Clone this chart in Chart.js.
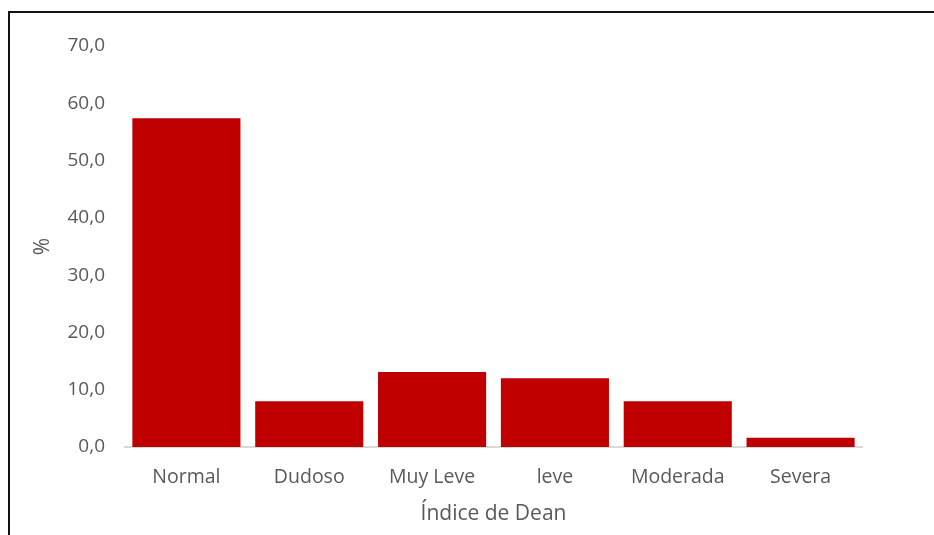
<!DOCTYPE html>
<html>
<head>
<meta charset="utf-8">
<script src="https://cdn.jsdelivr.net/npm/chart.js@4"></script>
<style>
  html, body { margin: 0; padding: 0; background: #fff; }
  #wrap { position: relative; width: 934px; height: 535px; }
  #frame { position: absolute; left: 8px; top: 11px; width: 940px; height: 540px;
           border-top: 2px solid #111; border-left: 2px solid #111; pointer-events: none; }
  canvas { position: absolute; left: 0; top: 0; }
</style>
</head>
<body>
<div id="wrap">
  <canvas id="deanChart" width="934" height="535"></canvas>
  <div id="frame"></div>
</div>
<script>
const categories = ["Normal", "Dudoso", "Muy Leve", "leve", "Moderada", "Severa"];
const percentages = [57.4, 8.0, 13.1, 12.0, 8.0, 1.6];
const yTicks = [0, 10, 20, 30, 40, 50, 60, 70];

const textColor = "#595959";
const fontFamily = "'Open Sans', sans-serif";

const ctx = document.getElementById("deanChart").getContext("2d");

new Chart(ctx, {
  type: "bar",
  data: {
    labels: categories,
    datasets: [{
      label: "%",
      data: percentages,
      backgroundColor: "#c00000",
      borderWidth: 0,
      barPercentage: 0.88,
      categoryPercentage: 1.0,
    }],
  },
  options: {
    responsive: false,
    animation: false,
    layout: { padding: { left: 30, right: 72, top: 46, bottom: 0 } },
    plugins: {
      legend: { display: false },
      tooltip: { enabled: false },
    },
    scales: {
      x: {
        grid: { display: false, drawTicks: false },
        border: { display: true, color: "#d9d9d9", width: 2 },
        ticks: { color: textColor, font: { family: fontFamily, size: 19.5 }, padding: 19 },
        title: {
          display: true,
          text: "Índice de Dean",
          color: textColor,
          font: { family: fontFamily, size: 21 },
          padding: { top: 0, bottom: 8 },
        },
        afterFit: (s) => { s.height = 88; },
      },
      y: {
        min: yTicks[0],
        max: yTicks[yTicks.length - 1],
        grid: { display: false, drawTicks: false },
        border: { display: false },
        afterBuildTicks: (s) => { s.ticks = yTicks.map((v) => ({ value: v })); },
        ticks: {
          color: textColor,
          font: { family: fontFamily, size: 19 },
          padding: 20,
          callback: (v) => v.toFixed(1).replace(".", ","),
        },
        title: {
          display: true,
          text: "%",
          color: textColor,
          font: { family: fontFamily, size: 21 },
          padding: { top: 0, bottom: 0 },
        },
        afterFit: (s) => { s.width = 95; },
      },
    },
  },
});
</script>
</body>
</html>
